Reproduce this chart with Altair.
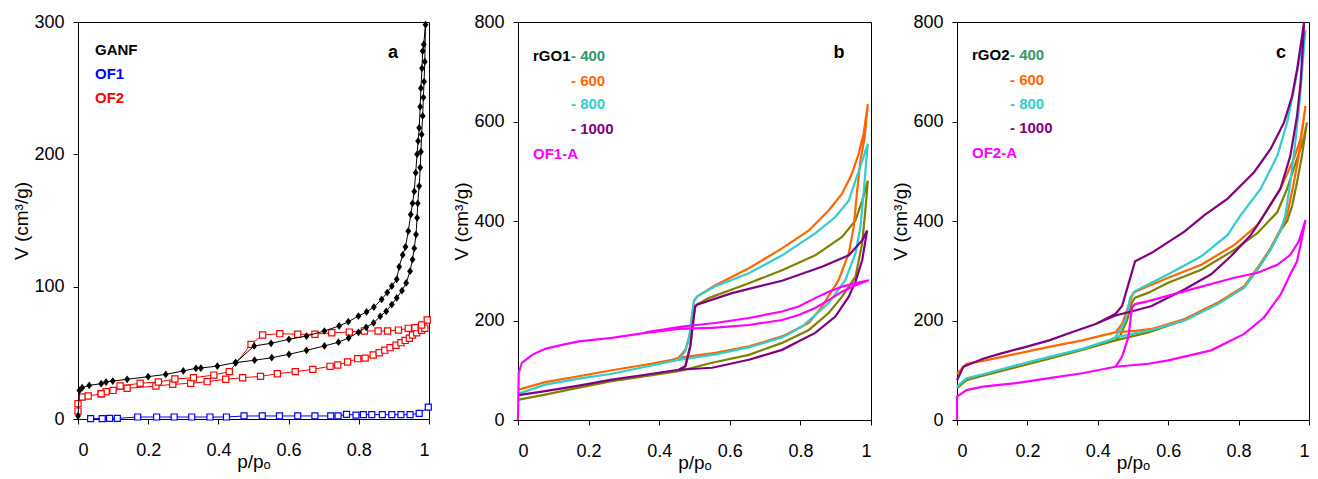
import altair as alt
import pandas as pd

FONT = "Liberation Sans, Arial, Helvetica, sans-serif"

X_TICKS = [0, 0.2, 0.4, 0.6, 0.8, 1.0]
YA_TICKS = [0, 100, 200, 300]
YB_TICKS = [0, 200, 400, 600, 800]

# ---------------- Panel a ----------------
GANF_X = [0, .004, .012, .032, .066, .08, .099, .14, .2, .25, .3, .336, .35, .397, .449, .503, .552, .601, .651,
          .702, .742, .771, .799, .821, .842, .861, .878, .894, .908, .923, .935, .946, .953, .958, .963, .966,
          .968, .972, .975, .977, .979, .982, .984, .986, .988, .99,
          .985, .982, .98, .977, .975, .972, .969, .966, .962, .958, .953, .948, .941, .933, .925, .915, .908,
          .894, .881, .865, .843, .822, .799, .77, .744, .702, .651, .601, .55, .502, .449]
GANF_Y = [2.3, 21.6, 23.7, 25.4, 26.7, 27.9, 28.7, 30, 32, 33.7, 36.3, 38.3, 38.5, 40, 42.6, 44.4, 46.3, 48.9, 51.9,
          55.2, 58, 61.3, 65.5, 69.3, 72.6, 77.6, 81.4, 86.5, 91.5, 97, 102.8, 111.7, 120.5, 129, 139.4, 152,
          163, 176, 190, 202, 215, 229, 243, 255, 270, 298,
          283, 278, 265, 250, 236, 220, 210, 200, 186, 172, 163, 154.5, 142, 130, 124, 115, 105.6,
          100.5, 95.5, 90.4, 84.6, 80.9, 77.8, 73.5, 70.3, 66.5, 62.7, 60.2, 57.2, 55.2, 42.6]

OF1_X = [.036, .069, .09, .112, .17, .224, .274, .324, .376, .423, .473, .525, .574, .626, .675, .72, .741, .765,
         .792, .813, .837, .867, .894, .92, .946, .972, .998]
OF1_Y = [0.3, 0.3, 0.4, 0.5, 1.5, 1.5, 1.5, 1.5, 1.5, 1.5, 2.3, 2.3, 2.3, 2.3, 2.3, 2.3, 2.3, 3.5,
         3, 3.3, 3.3, 3.3, 3.3, 3.3, 3.3, 4.3, 9]

OF2_X = [0, 0, .012, .029, .066, .08, .1, .14, .222, .27, .321, .368, .421, .469, .52, .568, .619, .669, .718, .74,
         .768, .797, .818, .841, .858, .874, .889, .906, .92, .932, .944, .953, .965, .979, .988, .995,
         .979, .96, .941, .913, .882, .855, .816, .773, .723, .675, .626, .575, .526, .493, .431, .387, .329,
         .276, .229, .177, .12, .066]
OF2_Y = [6, 11.6, 16.6, 17.4, 19.1, 20.6, 21.6, 23.2, 24.9, 26.2, 27, 28.2, 30, 31.2, 32.2, 34.2, 35.8, 37.5, 39.8,
         40.8, 43.1, 45.6, 46, 48.4, 50.1, 52, 53.9, 55.7, 57.7, 59.4, 61, 63.5, 65.2, 67, 68.5, 74.8,
         71, 69, 68.5, 67.2, 66.5, 66.5, 66.5, 65.7, 65.2, 64, 64, 64.5, 63.5, 56.4, 35.8, 33.2, 31.2,
         30.2, 28, 27, 24.9, 19.1]

# ---------------- Panel b (rGO1) ----------------
B400_X = [.002, .077, .172, .266, .361, .455, .55, .654, .748, .824, .88, .918, .956, .975, .984, .991,
          .975, .956, .918, .842, .748, .654, .54, .507, .502, .498, .488, .474, .455]
B400_Y = [41, 51, 65, 78, 88, 98, 115, 131, 155, 181, 215, 248, 288, 355, 421, 481,
          441, 401, 368, 331, 301, 275, 245, 232, 228, 208, 148, 108, 98]
B600_X = [.002, .077, .172, .266, .361, .436, .455, .559, .654, .748, .824, .861, .908, .937, .951, .96, .97, .982,
          .991, .979, .965, .946, .918, .88, .824, .748, .654, .559, .507, .499, .493, .486, .474, .455]
B600_Y = [61, 76, 88, 100, 111, 121, 125, 135, 148, 168, 195, 228, 281, 335, 388, 455, 521, 568,
          635, 575, 535, 495, 455, 421, 381, 345, 305, 271, 248, 240, 210, 170, 141, 125]
B800_X = [.002, .077, .172, .266, .361, .455, .559, .654, .748, .805, .88, .927, .956, .97, .979, .989, .991,
          .975, .956, .937, .899, .842, .748, .654, .559, .507, .499, .493, .486, .474, .455]
B800_Y = [53, 71, 83, 93, 107, 121, 132, 146, 166, 188, 235, 281, 335, 388, 455, 541, 555,
          521, 481, 441, 408, 375, 331, 295, 269, 248, 240, 210, 170, 138, 121]
B1000_X = [.002, .077, .172, .266, .361, .455, .55, .654, .748, .842, .899, .937, .956, .975, .989,
           .975, .937, .861, .748, .606, .507, .502, .498, .488, .474, .455]
B1000_Y = [50, 58, 69, 81, 91, 101, 105, 121, 141, 175, 208, 248, 278, 321, 381,
           361, 331, 308, 280, 255, 232, 228, 208, 148, 108, 101]
BOF1A_X = [0, .002, .011, .04, .077, .125, .172, .266, .361, .455, .55, .654, .748, .795, .842, .88, .918, .956,
           .994, .956, .918, .88, .842, .795, .748, .654, .559, .465, .361]
BOF1A_Y = [0, 95, 115, 131, 143, 151, 158, 165, 175, 183, 185, 191, 201, 211, 225, 241, 258, 271,
           281, 275, 268, 258, 245, 228, 218, 205, 195, 188, 176]

# ---------------- Panel c (rGO2) ----------------
C400_X = [0, .027, .074, .168, .262, .356, .45, .544, .647, .741, .816, .854, .891, .92, .938, .952, .966, .98, .994,
          .985, .966, .938, .91, .854, .788, .694, .6, .544, .506, .497, .483, .464, .45]
C400_Y = [64, 80, 89, 106, 123, 141, 160, 176, 201, 234, 267, 303, 343, 382, 400, 430, 478, 531, 598,
          565, 525, 465, 418, 376, 342, 302, 276, 256, 246, 236, 200, 170, 160]
C600_X = [0, .027, .074, .168, .262, .356, .431, .45, .506, .553, .647, .741, .816, .854, .891, .92, .938, .957,
          .971, .98, .99, .976, .957, .919, .872, .854, .788, .694, .6, .506, .501, .487, .469, .45]
C600_Y = [93, 113, 119, 133, 147, 160, 173, 176, 179, 183, 203, 236, 269, 306, 346, 385, 412, 478,
          531, 578, 631, 565, 525, 465, 412, 392, 352, 312, 286, 258, 256, 229, 193, 176]
C800_X = [0, .027, .074, .168, .262, .356, .431, .45, .506, .553, .647, .741, .816, .854, .891, .92, .933, .947,
          .961, .974, .985, .99, .985, .971, .957, .938, .91, .863, .806, .769, .694, .6, .544, .506, .492, .478,
          .45]
C800_Y = [67, 84, 92, 110, 127, 143, 160, 166, 174, 181, 200, 233, 266, 303, 343, 383, 412, 478,
          558, 644, 744, 783, 770, 717, 664, 598, 531, 465, 412, 372, 329, 293, 273, 259, 246, 200,
          166]
C1000_X = [0, .018, .074, .121, .196, .262, .328, .394, .45, .506, .553, .647, .722, .778, .835, .872, .919, .947,
           .966, .976, .983, .986, .98, .966, .952, .929, .891, .844, .769, .703, .647, .553, .506, .487, .469,
           .45, .394]
C1000_Y = [80, 107, 123, 133, 147, 160, 177, 193, 210, 220, 229, 263, 293, 329, 372, 412, 465, 531,
           611, 677, 757, 800, 770, 704, 651, 598, 545, 498, 445, 412, 379, 336, 319, 273, 229,
           213, 193]
COF2A_X = [0, 0, .027, .074, .168, .262, .356, .45, .544, .6, .722, .816, .872, .92, .947, .966, .98, .99,
           .971, .947, .91, .854, .788, .647, .544, .506, .497, .487, .469, .45]
COF2A_Y = [0, 47, 60, 67, 74, 84, 94, 107, 113, 120, 140, 173, 206, 253, 293, 319, 366, 402,
           359, 332, 312, 296, 286, 259, 239, 233, 226, 167, 127, 107]

# legend texts
A_LABELS = ["GANF", "OF1", "OF2"]
B_LABELS = ["rGO1", "- 400", "- 600", "- 800", "- 1000", "OF1-A"]
C_LABELS = ["rGO2", "- 400", "- 600", "- 800", "- 1000", "OF2-A"]

C_OLIVE, C_ORANGE, C_CYAN, C_PURPLE, C_MAGENTA = "#808000", "#FF6600", "#33CCCC", "#800080", "#FF00FF"
C_GREENTXT = "#339966"


def df(xs, ys):
    return pd.DataFrame({"x": xs, "y": ys, "i": list(range(len(xs)))})


def enc_x():
    return alt.X("x:Q", scale=alt.Scale(domain=[0, 1], nice=False, zero=False),
                 axis=alt.Axis(values=X_TICKS, format=".1~f", title="p/pₒ"))


def enc_y(top, ticks):
    return alt.Y("y:Q", scale=alt.Scale(domain=[0, top], nice=False, zero=False),
                 axis=alt.Axis(values=ticks, title="V (cm³/g)"))


def txt(label, x, y, color, size=15, align="left"):
    return alt.Chart(pd.DataFrame({"t": [label]})).mark_text(
        align=align, baseline="middle", font=FONT, fontSize=size, fontWeight="bold", color=color
    ).encode(text="t:N", x=alt.value(x), y=alt.value(y))


# ---- panel a
def marked_series(xs, ys, color, shape, size, filled):
    d = df(xs, ys)
    line = alt.Chart(d).mark_line(color=color, strokeWidth=1).encode(x=enc_x(), y=enc_y(300, YA_TICKS), order="i:Q")
    pts = alt.Chart(d).mark_point(shape=shape, size=size, color=color, filled=filled,
                                  fill=color if filled else "white", fillOpacity=1,
                                  strokeWidth=1.2, opacity=1).encode(x=enc_x(), y=enc_y(300, YA_TICKS))
    return [line, pts]

diamond = "M0,-1L0.75,0L0,1L-0.75,0Z"
layers_a = []
layers_a += marked_series(OF1_X, OF1_Y, "#0000FF", "square", 36, False)
layers_a += marked_series(OF2_X, OF2_Y, "#FF0000", "square", 38, False)
layers_a += marked_series(GANF_X, GANF_Y, "black", diamond, 60, True)
layers_a += [txt(A_LABELS[0], 17, 28, "black"), txt(A_LABELS[1], 17, 52, "#0000FF"),
             txt(A_LABELS[2], 17, 76, "#FF0000"), txt("a", 315, 31, "black", 18, "center")]
panel_a = alt.layer(*layers_a).properties(width=351, height=397)


def curve(xs, ys, color, top):
    return alt.Chart(df(xs, ys)).mark_line(color=color, strokeWidth=2.2).encode(
        x=enc_x(), y=enc_y(top, YB_TICKS), order="i:Q")


layers_b = [curve(B400_X, B400_Y, C_OLIVE, 800), curve(B600_X, B600_Y, C_ORANGE, 800),
            curve(B800_X, B800_Y, C_CYAN, 800), curve(B1000_X, B1000_Y, C_PURPLE, 800),
            curve(BOF1A_X, BOF1A_Y, C_MAGENTA, 800),
            txt(B_LABELS[0], 15, 34, "black"), txt(B_LABELS[1], 53, 34, C_GREENTXT),
            txt(B_LABELS[2], 53, 59, C_ORANGE), txt(B_LABELS[3], 53, 82, C_CYAN),
            txt(B_LABELS[4], 53, 107, C_PURPLE), txt(B_LABELS[5], 15, 132, C_MAGENTA),
            txt("b", 321, 31, "black", 18, "center")]
panel_b = alt.layer(*layers_b).properties(width=353, height=398)

layers_c = [curve(C400_X, C400_Y, C_OLIVE, 800), curve(C600_X, C600_Y, C_ORANGE, 800),
            curve(C800_X, C800_Y, C_CYAN, 800), curve(C1000_X, C1000_Y, C_PURPLE, 800),
            curve(COF2A_X, COF2A_Y, C_MAGENTA, 800),
            txt(C_LABELS[0], 15, 33, "black"), txt(C_LABELS[1], 53, 33, C_GREENTXT),
            txt(C_LABELS[2], 53, 58, C_ORANGE), txt(C_LABELS[3], 53, 82, C_CYAN),
            txt(C_LABELS[4], 53, 106, C_PURPLE), txt(C_LABELS[5], 15, 131, C_MAGENTA),
            txt("c", 324, 31, "black", 18, "center")]
panel_c = alt.layer(*layers_c).properties(width=352, height=398)

chart = alt.hconcat(panel_a, panel_b, panel_c, spacing=17).properties(
    padding={"left": 4, "top": 4, "right": -2, "bottom": 0},
    background="white"
).configure_axis(
    labelFont=FONT, labelFontSize=18, labelColor="black",
    titleFont=FONT, titleFontSize=19, titleFontWeight="normal", titleColor="black",
    domainColor="black", domainWidth=1, tickColor="black", tickSize=5, tickWidth=1, grid=False
).configure_axisX(
    labelPadding=17, titlePadding=-7
).configure_axisY(
    labelPadding=9, titlePadding=2
).configure_view(
    stroke="black", strokeWidth=1
)

chart.save("out.html", embed_options={"renderer": "svg", "actions": False})
